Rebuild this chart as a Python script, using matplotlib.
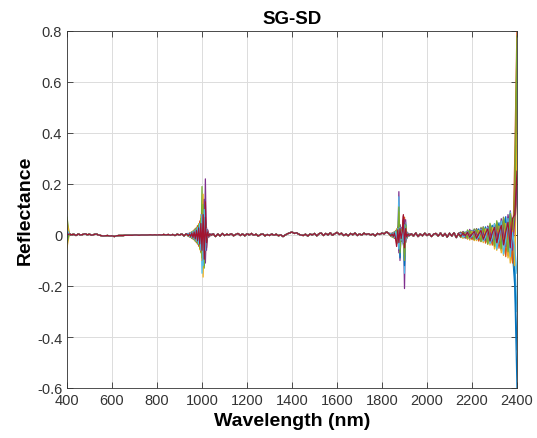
import numpy as np
import matplotlib
matplotlib.use("Agg")
import matplotlib.pyplot as plt

plt.rcParams['font.family'] = ['Liberation Sans', 'DejaVu Sans']

# ---------------- data ----------------
# shared quiet-region values
base_400_930 = [0.0, 0.004, 0.001, 0.003, -0.002, 0.004, 0.0, 0.002, 0.005, 0.001,
                0.003, -0.001, 0.002, 0.004, 0.0, -0.002, -0.004, -0.003, -0.002, -0.004,
                -0.003,
                -0.006, -0.003, -0.002, -0.002, -0.002, -0.001, -0.001, -0.001, -0.001, 0.0,
                0.0, -0.001, 0.0, 0.0, 0.0, 0.0, 0.001, 0.0, 0.001, 0.0,
                0.001, 0.0, 0.002, 0.0, 0.002, -0.001, 0.002, -0.002, 0.003,
                0.0, 0.004, -0.003, 0.005]
base_1050_1830 = [0.005, -0.006, 0.004, -0.004, 0.006, -0.002, 0.003, 0.0, 0.005, -0.003,
                  0.002, 0.006, -0.002, 0.004, -0.003, 0.005, 0.0, 0.006, -0.001, 0.003,
                  -0.004, 0.002, 0.004, -0.003, 0.002, -0.002, 0.004, -0.001, 0.003, -0.003,
                  0.001, -0.006, 0.0, 0.005, 0.008, 0.012, 0.006, 0.009, 0.003, 0.0,
                  -0.002, 0.003, -0.004, 0.004, 0.0, 0.006, -0.003, 0.005, 0.008, -0.002,
                  0.006, 0.0, 0.009, -0.001, 0.005, 0.010, 0.002, 0.007, -0.002, 0.004,
                  -0.003, 0.006, 0.001, 0.008, -0.002, 0.004, 0.0, 0.007, 0.002, 0.005,
                  0.0, 0.004, -0.003, 0.006, 0.002, 0.008, 0.004, 0.012, 0.006]
base_1930_2140 = [0.005, -0.004, 0.008, -0.006, 0.004, -0.003, 0.007, -0.002, 0.005, -0.006,
                  0.004, 0.006, -0.004, 0.008, -0.005, 0.006, -0.008, 0.007, -0.004, 0.009,
                  -0.010, 0.006]

# value at 400 nm for each spectrum
start_vals = [0.0, 0.02, -0.05, 0.01, 0.07, -0.02, 0.01, -0.01, 0.03, 0.05, 0.0, -0.03, 0.02, 0.0]

# 940-1040 nm (5 nm step), one row per spectrum
win_1000 = [
    [0.004, -0.006, 0.008, -0.010, 0.012, -0.015, 0.020, -0.018, 0.028, -0.025, 0.040, -0.045, 0.070, -0.090, 0.080, -0.040, 0.020, -0.010, 0.006, -0.003, 0.002],
    [-0.005, 0.007, -0.009, 0.012, -0.014, 0.018, -0.022, 0.026, -0.030, 0.038, -0.050, 0.060, -0.080, 0.110, -0.070, 0.050, -0.025, 0.012, -0.006, 0.004, -0.002],
    [0.006, -0.004, 0.010, -0.012, 0.016, -0.018, 0.024, -0.028, 0.034, -0.040, 0.048, -0.060, 0.090, -0.165, 0.060, -0.030, 0.015, -0.008, 0.004, -0.002, 0.001],
    [-0.003, 0.008, -0.006, 0.010, -0.012, 0.016, -0.020, 0.022, -0.026, 0.032, -0.040, 0.050, -0.070, 0.090, -0.110, 0.220, -0.060, 0.020, -0.008, 0.004, -0.002],
    [0.005, -0.007, 0.009, -0.011, 0.014, -0.017, 0.021, -0.025, 0.032, -0.038, 0.050, -0.070, 0.190, -0.080, 0.060, -0.040, 0.018, -0.009, 0.005, -0.002, 0.001],
    [-0.004, 0.005, -0.008, 0.012, -0.015, 0.018, -0.023, 0.027, -0.035, 0.042, -0.055, 0.080, -0.150, 0.070, -0.050, 0.030, -0.015, 0.008, -0.004, 0.002, -0.001],
    [0.003, -0.005, 0.007, -0.009, 0.011, -0.014, 0.018, -0.022, 0.027, -0.033, 0.040, -0.050, 0.060, -0.080, 0.070, 0.130, -0.050, 0.020, -0.008, 0.004, -0.002],
    [-0.006, 0.004, -0.007, 0.009, -0.013, 0.016, -0.019, 0.024, -0.029, 0.036, -0.046, 0.058, -0.075, 0.100, -0.120, 0.060, -0.030, 0.012, -0.006, 0.003, -0.001],
    [0.004, -0.008, 0.010, -0.013, 0.015, -0.019, 0.025, -0.030, 0.037, -0.044, 0.055, -0.065, 0.085, -0.070, 0.095, -0.045, 0.022, -0.011, 0.005, -0.003, 0.001],
    [-0.005, 0.006, -0.009, 0.011, -0.016, 0.020, -0.024, 0.030, -0.036, 0.045, -0.058, 0.075, -0.100, 0.160, -0.090, 0.040, -0.018, 0.009, -0.004, 0.002, -0.001],
    [0.006, -0.005, 0.008, -0.012, 0.013, -0.017, 0.022, -0.026, 0.031, -0.037, 0.046, -0.055, 0.070, -0.100, 0.140, -0.110, 0.030, -0.012, 0.006, -0.003, 0.001],
    [-0.004, 0.006, -0.010, 0.013, -0.015, 0.019, -0.024, 0.028, -0.034, 0.040, -0.052, 0.065, -0.090, 0.120, -0.130, 0.050, -0.020, 0.010, -0.005, 0.002, -0.001],
    [0.005, -0.006, 0.009, -0.010, 0.014, -0.016, 0.020, -0.024, 0.029, -0.035, 0.045, -0.060, 0.080, -0.120, 0.100, -0.060, 0.025, -0.010, 0.005, -0.003, 0.001],
    [-0.003, 0.004, -0.006, 0.008, -0.010, 0.012, -0.015, 0.018, -0.022, 0.028, -0.035, 0.045, -0.060, 0.080, -0.095, 0.070, -0.030, 0.012, -0.005, 0.003, -0.001],
]

# 1840-1920 nm (5 nm step)
win_1880 = [
    [0.004, -0.006, 0.008, -0.010, 0.012, -0.020, 0.030, -0.060, 0.020, -0.015, 0.025, -0.040, 0.030, -0.020, 0.010, -0.006, 0.003],
    [-0.005, 0.007, -0.009, 0.013, -0.015, 0.022, -0.025, 0.080, -0.030, 0.020, -0.018, 0.060, -0.050, 0.020, -0.010, 0.005, -0.003],
    [0.006, -0.004, 0.010, -0.012, 0.014, -0.018, 0.035, -0.040, 0.025, -0.020, 0.015, 0.040, -0.070, 0.025, -0.012, 0.006, -0.003],
    [-0.003, 0.008, -0.006, 0.010, -0.016, 0.020, -0.030, 0.170, -0.100, 0.030, -0.020, 0.050, -0.210, 0.060, -0.015, 0.008, -0.004],
    [0.005, -0.007, 0.009, -0.011, 0.013, -0.024, 0.028, -0.050, 0.040, -0.025, 0.020, -0.030, 0.050, -0.030, 0.012, -0.006, 0.003],
    [-0.004, 0.005, -0.008, 0.012, -0.014, 0.020, -0.030, 0.150, -0.080, 0.025, -0.020, 0.045, -0.150, 0.050, -0.012, 0.007, -0.003],
    [0.003, -0.005, 0.007, -0.009, 0.010, -0.035, 0.020, -0.040, 0.030, -0.020, 0.018, 0.080, -0.060, 0.030, -0.010, 0.005, -0.002],
    [-0.006, 0.004, -0.007, 0.010, -0.012, 0.018, -0.025, 0.060, -0.090, 0.020, -0.015, 0.035, -0.120, 0.040, -0.011, 0.005, -0.002],
    [0.004, -0.008, 0.010, -0.013, 0.016, -0.020, 0.030, -0.045, 0.035, -0.018, 0.020, -0.025, 0.070, -0.025, 0.010, -0.004, 0.002],
    [-0.005, 0.006, -0.009, 0.011, -0.013, 0.025, -0.028, 0.090, -0.050, 0.022, -0.016, 0.030, -0.080, 0.035, -0.010, 0.005, -0.002],
    [0.006, -0.005, 0.008, -0.012, 0.015, -0.022, 0.030, -0.070, 0.040, -0.025, 0.020, -0.035, 0.060, -0.030, 0.012, -0.006, 0.002],
    [-0.004, 0.006, -0.010, 0.012, -0.014, 0.020, -0.028, 0.110, -0.070, 0.020, -0.018, 0.050, -0.100, 0.040, -0.012, 0.006, -0.003],
    [0.005, -0.006, 0.009, -0.010, 0.013, -0.022, 0.026, -0.055, 0.030, -0.020, 0.016, -0.030, 0.040, -0.020, 0.010, -0.005, 0.002],
    [-0.003, 0.004, -0.006, 0.008, -0.012, -0.045, 0.020, -0.030, 0.025, -0.015, 0.012, 0.075, -0.050, 0.025, -0.008, 0.004, -0.002],
]

# 2150-2400 nm (10 nm step)
win_2300 = [
    [0.010, 0.002, -0.012, 0.015, -0.004, -0.010, 0.022, 0.005, -0.018, 0.012, 0.025, -0.020, -0.005, 0.028, -0.030, 0.010, 0.040, -0.035, 0.020, 0.055, -0.045, -0.010, 0.080, -0.070, -0.200, -0.600],
    [-0.008, 0.012, 0.004, -0.014, 0.016, -0.006, -0.016, 0.024, 0.002, -0.020, 0.022, -0.010, -0.028, 0.030, 0.008, -0.040, 0.035, -0.020, -0.060, 0.040, 0.010, -0.080, 0.060, -0.100, 0.300, 0.820],
    [0.006, -0.012, -0.004, 0.012, -0.020, 0.004, 0.015, -0.022, -0.008, 0.018, -0.030, 0.010, 0.022, -0.040, -0.012, 0.025, -0.060, 0.005, 0.030, -0.080, -0.030, 0.040, -0.110, -0.060, -0.140, 0.600],
    [-0.010, 0.014, 0.002, -0.015, 0.022, -0.004, -0.020, 0.025, 0.006, -0.024, 0.032, -0.008, -0.030, 0.036, 0.010, -0.040, 0.050, -0.015, -0.045, 0.070, 0.020, -0.060, 0.095, 0.030, 0.050, 0.150],
    [0.012, -0.004, -0.010, 0.020, 0.004, -0.014, 0.024, -0.006, -0.016, 0.030, 0.002, -0.024, 0.034, -0.010, -0.030, 0.045, 0.005, -0.040, 0.055, -0.015, -0.060, 0.070, -0.020, -0.080, 0.200, 0.780],
    [-0.006, 0.010, -0.012, 0.004, 0.016, -0.014, 0.002, 0.020, -0.020, 0.006, 0.026, -0.024, 0.004, 0.036, -0.034, 0.010, 0.044, -0.042, 0.015, 0.060, -0.050, 0.020, 0.090, -0.065, -0.100, -0.300],
    [0.008, -0.010, 0.004, 0.012, -0.014, 0.006, 0.018, -0.016, 0.002, 0.022, -0.020, 0.008, 0.028, -0.026, 0.004, 0.034, -0.032, 0.010, 0.045, -0.040, 0.012, 0.060, -0.070, 0.030, 0.100, 0.350],
    [-0.009, 0.004, 0.012, -0.011, 0.002, 0.018, -0.015, 0.006, 0.024, -0.021, 0.004, 0.032, -0.030, 0.010, 0.038, -0.036, 0.012, 0.048, -0.045, 0.015, 0.072, -0.068, 0.080, -0.030, -0.150, -0.450],
    [0.007, 0.011, -0.011, -0.002, 0.014, -0.018, 0.004, 0.020, -0.024, 0.006, 0.026, -0.032, 0.008, 0.030, -0.040, 0.010, 0.042, -0.052, 0.012, 0.050, -0.085, 0.020, 0.060, -0.110, 0.150, 0.650],
    [-0.007, -0.012, 0.009, -0.016, 0.002, 0.015, -0.022, -0.006, 0.018, -0.026, -0.010, 0.024, -0.036, -0.012, 0.030, -0.055, -0.020, 0.035, -0.070, -0.030, 0.045, -0.090, -0.040, 0.050, -0.120, 0.400],
    [0.009, 0.002, -0.007, 0.013, 0.004, -0.011, 0.019, 0.006, -0.015, 0.026, 0.008, -0.020, 0.035, 0.010, -0.024, 0.042, 0.012, -0.030, 0.064, 0.015, -0.045, 0.080, 0.020, -0.060, 0.060, 0.200],
    [-0.008, 0.011, 0.004, -0.012, 0.017, 0.002, -0.018, 0.023, 0.006, -0.026, 0.031, 0.008, -0.036, 0.046, 0.010, -0.044, 0.056, 0.012, -0.054, 0.068, 0.015, -0.066, 0.085, 0.020, 0.100, 0.700],
    [0.006, -0.009, -0.002, 0.012, -0.013, -0.004, 0.017, -0.018, -0.006, 0.023, -0.024, -0.008, 0.030, -0.034, -0.010, 0.044, -0.055, -0.015, 0.055, -0.075, -0.020, 0.065, -0.085, 0.010, -0.050, -0.150],
    [-0.005, 0.008, -0.002, 0.010, -0.009, 0.003, 0.014, -0.013, 0.004, 0.018, -0.017, 0.006, 0.024, -0.024, 0.008, 0.030, -0.030, 0.010, 0.038, -0.038, 0.012, 0.050, -0.050, 0.065, 0.080, 0.250],
]

xticks = [400, 600, 800, 1000, 1200, 1400, 1600, 1800, 2000, 2200, 2400]
yticks = [-0.6, -0.4, -0.2, 0, 0.2, 0.4, 0.6, 0.8]
ytick_labels = ['-0.6', '-0.4', '-0.2', '0', '0.2', '0.4', '0.6', '0.8']

colors = ['#0072BD', '#D95319', '#EDB120', '#7E2F8E', '#77AC30', '#4DBEEE', '#A2142F']

# ---------------- wavelength grids ----------------
wl_a = np.arange(400, 931, 10)
wl_w1 = np.arange(940, 1041, 5)
wl_b = np.arange(1050, 1831, 10)
wl_w2 = np.arange(1840, 1921, 5)
wl_c = np.arange(1930, 2141, 10)
wl_w3 = np.arange(2150, 2401, 10)
wl = np.concatenate([wl_a, wl_w1, wl_b, wl_w2, wl_c, wl_w3])

fig = plt.figure(figsize=(5.37, 4.39), dpi=100)
ax = fig.add_axes([67 / 537, 1 - 389 / 439, (517 - 67) / 537, (389 - 32) / 439])

for i in range(len(start_vals)):
    y = np.concatenate([[start_vals[i]], base_400_930[1:], win_1000[i], base_1050_1830,
                        win_1880[i], base_1930_2140, win_2300[i]])
    ax.plot(wl, y, color=colors[i % 7], lw=0.9)

ax.set_xlim(400, 2400)
ax.set_ylim(-0.6, 0.8)
ax.set_xticks(xticks)
ax.set_yticks(yticks)
ax.set_yticklabels(ytick_labels)
ax.grid(True, color='#dcdcdc', lw=0.7)
ax.set_axisbelow(True)
ax.tick_params(direction='in', top=True, right=True, labelsize=10.5, colors='#333333',
               length=4, width=0.6)
for s in ax.spines.values():
    s.set_color('#333333')
    s.set_linewidth(0.6)

ax.set_title('SG-SD', fontsize=13.5, fontweight='bold', pad=6)
ax.set_xlabel('Wavelength (nm)', fontsize=14, fontweight='bold', labelpad=4)
ax.set_ylabel('Reflectance', fontsize=14, fontweight='bold', labelpad=2)

fig.savefig('out.png', dpi=100)
